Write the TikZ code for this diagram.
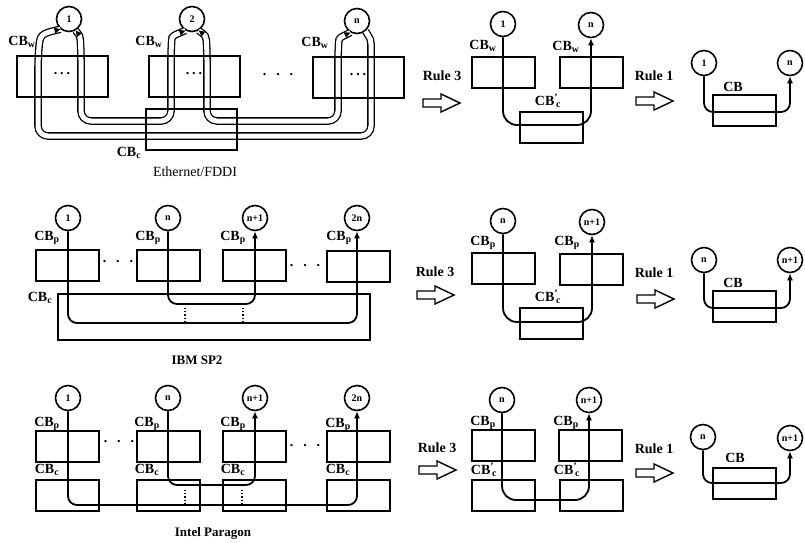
\documentclass[tikz,border=0pt]{standalone}
\usepackage{fontspec}
\setmainfont{Liberation Serif}
\usetikzlibrary{arrows.meta, decorations.markings}
\tikzset{
  proc/.style={circle, draw, line width=1.6pt, minimum size=25pt, inner sep=0pt, font=\bfseries\fontsize{10}{10}\selectfont},
  bigbuf/.style={draw, line width=2pt, minimum width=91pt, minimum height=41pt, inner sep=0pt},
  buf/.style={draw, line width=2pt, minimum width=63pt, minimum height=31pt, inner sep=0pt},
  lbl/.style={font=\bfseries\fontsize{14}{16}\selectfont, inner sep=0pt},
  captxt/.style={font=\fontsize{14}{16}\selectfont, inner sep=0pt},
  capb/.style={font=\bfseries\fontsize{13}{15}\selectfont, inner sep=0pt},
  dots/.style={font=\bfseries\fontsize{14}{16}\selectfont, inner sep=0pt},
  route/.style={line width=1.8pt, rounded corners=9pt, -{Latex[length=7pt,width=6pt]}},
  tube/.style={line width=1.3pt, double distance=5pt, rounded corners=10pt,
    postaction={decorate, decoration={markings,
      mark=at position 0 with {\fill[sharp corners] (6pt,-3pt) -- (0pt,0pt) -- (6pt,3pt) -- cycle;},
      mark=at position 1 with {\fill[sharp corners] (-6pt,-3pt) -- (0pt,0pt) -- (-6pt,3pt) -- cycle;}}}},
  rulearrow/.style={line width=1.4pt, line join=miter},
}
\newcommand{\rulearr}[1]{\draw[rulearrow, shift={(#1)}] (-18,-4) -- (0,-4) -- (0,-9) -- (19,0) -- (0,9) -- (0,4) -- (-18,4) -- cycle;}

\begin{document}
\begin{tikzpicture}[x=1pt, y=-1pt, font=\fontsize{13}{15}\selectfont]
    \useasboundingbox (0,0) rectangle (805,542);

    % Ethernet/FDDI
    \node[proc] (e1) at (69,19) {1};
    \node[proc] (e2) at (192,19) {2};
    \node[proc] (en) at (357,21) {n};
    \draw[tube] (e1.-60) .. controls (80,36) .. (81,50) -- (81,121) -- (171,121) -- (171,50) .. controls (172,36) .. (e2.-120);
    \draw[tube] (e2.-60) .. controls (206,36) .. (207,50) -- (207,121) -- (338,121) -- (338,52) .. controls (339,38) .. (en.-120);
    \draw[tube] (e1.-130) .. controls (40,34) .. (38,60) -- (38,136) -- (371,136) -- (371,54) .. controls (371,40) .. (en.-50);
    \node[bigbuf] (w1) at (62,76) {};
    \node[bigbuf] (w2) at (194,76) {};
    \node[bigbuf] (wn) at (358,77) {};
    \node[bigbuf] (cc) at (191,129) {};
    \node[dots] (dw1) at (62,74) {.\hspace{3pt}.\hspace{3pt}.};
    \node[dots] (dw2) at (194,74) {.\hspace{3pt}.\hspace{3pt}.};
    \node[dots] (dwn) at (358,75) {.\hspace{3pt}.\hspace{3pt}.};
    \node[dots] (dw) at (278,75) {.\hspace{10pt}.\hspace{10pt}.};
    \node[lbl] (lw1) at (22,42) {CB\textsubscript{w}};
    \node[lbl] (lw2) at (149,42) {CB\textsubscript{w}};
    \node[lbl] (lwn) at (315,43) {CB\textsubscript{w}};
    \node[lbl] (lcc) at (129,153) {CB\textsubscript{c}};
    \node[captxt] (eth) at (195,172) {Ethernet/FDDI};

    \node[lbl] (t13) at (442,76) {Rule 3};
    \coordinate (r13) at (441,103);
    \rulearr{r13}
    \node[proc] (ma1) at (503,24) {1};
    \node[proc] (mb1) at (591,25) {n};
    \draw[route, rounded corners=14pt] (ma1) -- (503,125) -- (591,125) -- (mb1);
    \node[buf] (mw1) at (503.5,72) {};
    \node[buf] (mw2) at (591,72.5) {};
    \node[buf] (mc1) at (551,127) {};
    \node[lbl] (lmw1) at (483,46) {CB\textsubscript{w}};
    \node[lbl] (lmw2) at (566,47) {CB\textsubscript{w}};
    \node[lbl] (lmc1) at (548,101) {CB\textsuperscript{'}\kern-2pt\textsubscript{c}};

    \node[lbl] (t11) at (654,76) {Rule 1};
    \coordinate (r11) at (654,101);
    \rulearr{r11}
    \node[proc] (fa1) at (704,63) {1};
    \node[proc] (fb1) at (790,63) {n};
    \draw[route] (fa1) -- (704,112) -- (790,112) -- (fb1);
    \node[buf] (f1) at (744.5,110.5) {};
    \node[lbl] (lf1) at (733,87) {CB};

    % IBM SP2
    \node[proc] (s1) at (68,218) {1};
    \node[proc] (sn) at (168,218) {n};
    \node[proc] (sn1) at (255,218) {n+1};
    \node[proc] (s2n) at (357,218) {2n};
    \draw[route] (s1) -- (68,323) -- (357,323) -- (s2n);
    \draw[route] (sn) -- (168,304) -- (255,304) -- (sn1);
    \draw[dotted, line width=1.2pt] (185,308) -- (185,321);
    \draw[dotted, line width=1.2pt] (243,308) -- (243,321);
    \node[buf] (sp1) at (67.5,265.5) {};
    \node[buf] (spn) at (168,265.5) {};
    \node[buf] (spn1) at (254,265.5) {};
    \node[buf] (sp2n) at (358.5,266) {};
    \node[draw, line width=2pt, minimum width=312pt, minimum height=46pt, inner sep=0pt] (sc) at (214,317) {};
    \node[dots] (ds1) at (118,262) {.\hspace{10pt}.\hspace{10pt}.};
    \node[dots] (ds2) at (305,266) {.\hspace{10pt}.\hspace{10pt}.};
    \node[lbl] (lsp1) at (47,238) {CB\textsubscript{p}};
    \node[lbl] (lspn) at (148,238) {CB\textsubscript{p}};
    \node[lbl] (lspn1) at (233,238) {CB\textsubscript{p}};
    \node[lbl] (lsp2n) at (339,238) {CB\textsubscript{p}};
    \node[lbl] (lsc) at (40,298) {CB\textsubscript{c}};
    \node[capb] (ibm) at (197,360) {IBM SP2};

    \node[lbl] (t23) at (435,272) {Rule 3};
    \coordinate (r23) at (435,295);
    \rulearr{r23}
    \node[proc] (ma2) at (503,221) {n};
    \node[proc] (mb2) at (592,222) {n+1};
    \draw[route, rounded corners=14pt] (ma2) -- (503,322) -- (592,322) -- (mb2);
    \node[buf] (mp1) at (503.5,268) {};
    \node[buf] (mp2) at (591,269) {};
    \node[buf] (mc2) at (551,323) {};
    \node[lbl] (lmp1) at (483,243) {CB\textsubscript{p}};
    \node[lbl] (lmp2) at (567,243) {CB\textsubscript{p}};
    \node[lbl] (lmc2) at (548,297) {CB\textsuperscript{'}\kern-2pt\textsubscript{c}};

    \node[lbl] (t21) at (654,273) {Rule 1};
    \coordinate (r21) at (655,299);
    \rulearr{r21}
    \node[proc] (fa2) at (704,260) {n};
    \node[proc] (fb2) at (790,260) {n+1};
    \draw[route] (fa2) -- (704,308) -- (790,308) -- (fb2);
    \node[buf] (f2) at (744.5,306.5) {};
    \node[lbl] (lf2) at (733,283) {CB};

    % Intel Paragon
    \node[proc] (i1) at (68,398) {1};
    \node[proc] (in) at (168,398) {n};
    \node[proc] (in1) at (255,398) {n+1};
    \node[proc] (i2n) at (357,398) {2n};
    \draw[route] (i1) -- (68,505) -- (357,505) -- (i2n);
    \draw[route] (in) -- (168,485) -- (255,485) -- (in1);
    \draw[dotted, line width=1.2pt] (185,490) -- (185,503);
    \draw[dotted, line width=1.2pt] (242,490) -- (242,503);
    \node[buf] (ip1) at (67.5,446) {};
    \node[buf] (ipn) at (168,446) {};
    \node[buf] (ipn1) at (254,446) {};
    \node[buf] (ip2n) at (358.5,446) {};
    \node[buf] (ic1) at (67.5,495.5) {};
    \node[buf] (icn) at (168,495.5) {};
    \node[buf] (icn1) at (254,495.5) {};
    \node[buf] (ic2n) at (358.5,495.5) {};
    \node[dots] (di1) at (119,442) {.\hspace{10pt}.\hspace{10pt}.};
    \node[dots] (di2) at (305,446) {.\hspace{10pt}.\hspace{10pt}.};
    \node[lbl] (lip1) at (47,424) {CB\textsubscript{p}};
    \node[lbl] (lipn) at (147,424) {CB\textsubscript{p}};
    \node[lbl] (lipn1) at (233,424) {CB\textsubscript{p}};
    \node[lbl] (lip2n) at (338,425) {CB\textsubscript{p}};
    \node[lbl] (lic1) at (47,470) {CB\textsubscript{c}};
    \node[lbl] (licn) at (147,470) {CB\textsubscript{c}};
    \node[lbl] (licn1) at (233,470) {CB\textsubscript{c}};
    \node[lbl] (lic2n) at (338,470) {CB\textsubscript{c}};
    \node[capb] (intel) at (213,533) {Intel Paragon};

    \node[lbl] (t33) at (437,448) {Rule 3};
    \coordinate (r33) at (437,470);
    \rulearr{r33}
    \node[proc] (ma3) at (502,400) {n};
    \node[proc] (mb3) at (589,400) {n+1};
    \draw[route, rounded corners=14pt] (ma3) -- (502,500) -- (589,500) -- (mb3);
    \node[buf] (mp3) at (503,445) {};
    \node[buf] (mq3) at (590.5,445) {};
    \node[buf] (mc3) at (503,495) {};
    \node[buf] (md3) at (591,495.5) {};
    \node[lbl] (lmp3) at (483,423) {CB\textsubscript{p}};
    \node[lbl] (lmq3) at (566,423) {CB\textsubscript{p}};
    \node[lbl] (lmc3) at (484,470) {CB\textsuperscript{'}\kern-2pt\textsubscript{c}};
    \node[lbl] (lmd3) at (567,470) {CB\textsuperscript{'}\kern-2pt\textsubscript{c}};

    \node[lbl] (t31) at (654,449) {Rule 1};
    \coordinate (r31) at (654,473);
    \rulearr{r31}
    \node[proc] (fa3) at (703,437) {n};
    \node[proc] (fb3) at (790,438) {n+1};
    \draw[route] (fa3) -- (703,483) -- (790,483) -- (fb3);
    \node[buf] (f3) at (744,483) {};
    \node[lbl] (lf3) at (735,458) {CB};
\end{tikzpicture}
\end{document}
